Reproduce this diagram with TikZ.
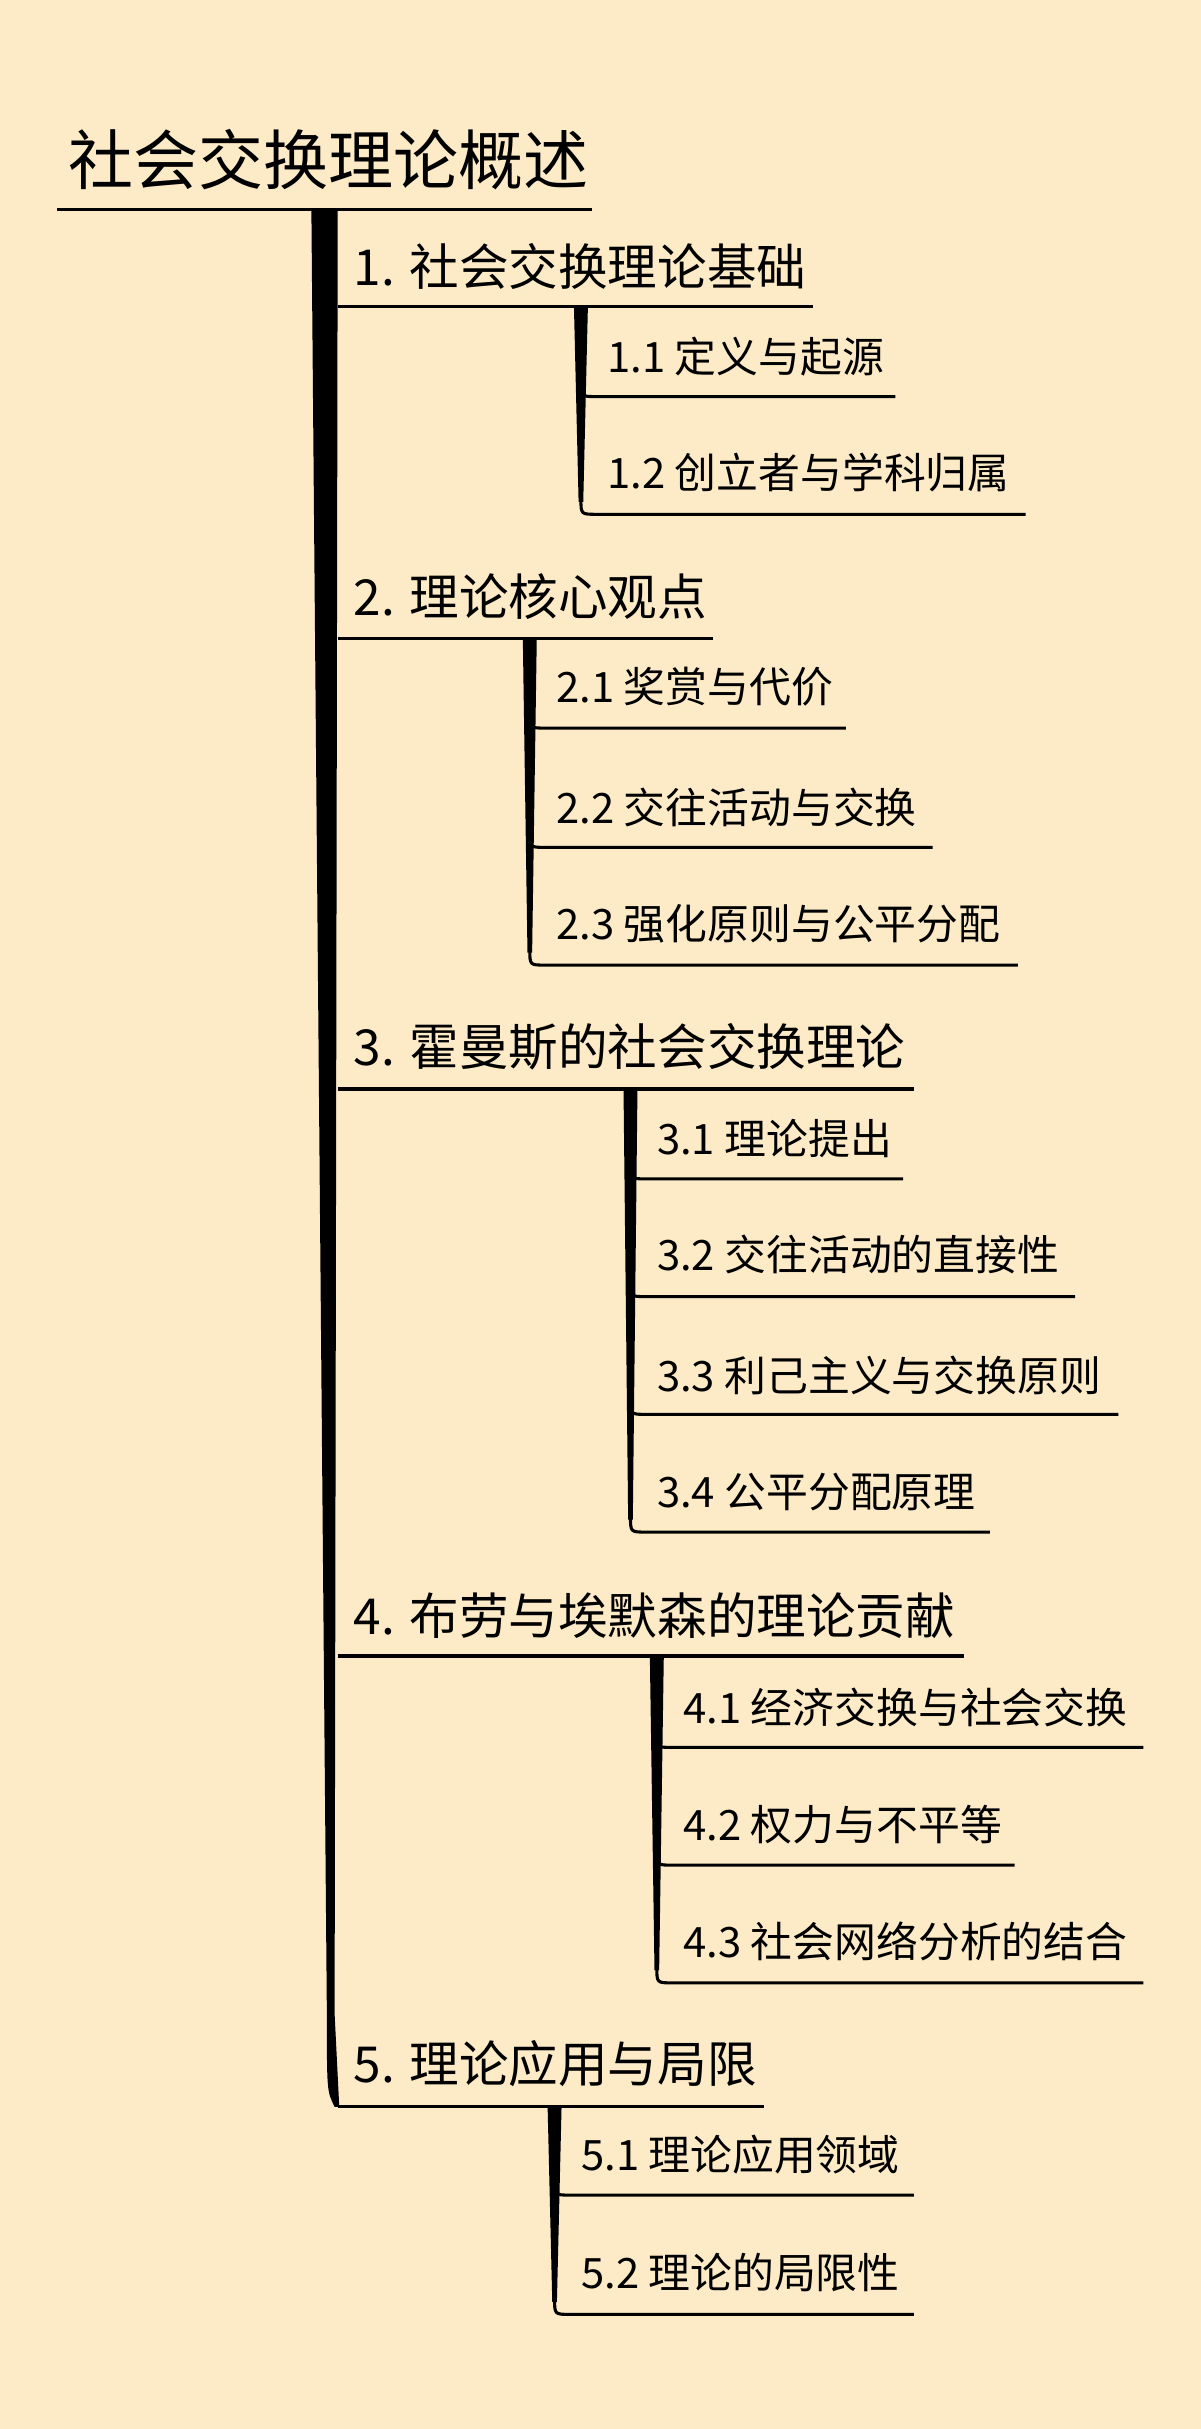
\documentclass[tikz,border=0pt]{standalone}
\usepackage{fontspec}
\setmainfont{Noto Sans CJK SC}
\definecolor{bg}{HTML}{FDEBC7}
\begin{document}
\begin{tikzpicture}[x=1pt,y=-1pt,
  lone/.style={anchor=west,inner sep=0pt,font=\fontsize{32}{32}\selectfont},
  ltwo/.style={anchor=west,inner sep=0pt,font=\fontsize{27}{27}\selectfont},
  ul/.style={line width=2pt}]
\fill[bg] (0,0) rectangle (775,1568);
\useasboundingbox (0,0) rectangle (775,1568);
\node[anchor=west,inner sep=0pt,font=\fontsize{42}{42}\selectfont] (t) at (44,103) {社会交换理论概述};
\draw[ul] (37,135) -- (382,135);
% trunk
\fill (201,135) -- (218,135) -- (216,1300) -- (219,1360) -- (216,1360) .. controls (211,1350) .. (211,1300) -- cycle;
% level 1
\newcommand\lvone[5]{\node[lone] (#1) at (228,#2) {#5};
  \draw[ul] (#1.west|-0,#3) ++(-10,0) -- (#4,#3);}
\lvone{a}{172}{198}{525}{1. 社会交换理论基础}
\lvone{b}{385}{412}{460}{2. 理论核心观点}
\lvone{c}{676}{703}{590}{3. 霍曼斯的社会交换理论}
\lvone{d}{1043}{1069}{622}{4. 布劳与埃默森的理论贡献}
\lvone{e}{1332}{1360}{493}{5. 理论应用与局限}
% level 2
\newcommand\lvtwo[6]{\node[ltwo] (#1) at (#2+17,#3) {#6};
  \draw[ul] (#2,#4-10) .. controls (#2,#4) .. (#2+10,#4) -- (#5,#4);}
\newcommand\branch[3]{\fill (#1-4.5,#2) -- (#1+4.5,#2) -- (#1+1.5,#3-8) -- (#1-1.5,#3-8) -- cycle;}
\branch{375}{198}{332}
\lvtwo{a1}{375}{230}{256}{578}{1.1 定义与起源}
\lvtwo{a2}{375}{305}{332}{662}{1.2 创立者与学科归属}
\branch{342}{412}{623}
\lvtwo{b1}{342}{443}{470}{546}{2.1 奖赏与代价}
\lvtwo{b2}{342}{521}{547}{602}{2.2 交往活动与交换}
\lvtwo{b3}{342}{596}{623}{657}{2.3 强化原则与公平分配}
\branch{407}{703}{989}
\lvtwo{c1}{407}{735}{761}{583}{3.1 理论提出}
\lvtwo{c2}{407}{810}{837}{694}{3.2 交往活动的直接性}
\lvtwo{c3}{407}{888}{913}{722}{3.3 利己主义与交换原则}
\lvtwo{c4}{407}{963}{989}{639}{3.4 公平分配原理}
\branch{424}{1069}{1280}
\lvtwo{d1}{424}{1102}{1128}{738}{4.1 经济交换与社会交换}
\lvtwo{d2}{424}{1178}{1204}{655}{4.2 权力与不平等}
\lvtwo{d3}{424}{1253}{1280}{738}{4.3 社会网络分析的结合}
\branch{358}{1360}{1494}
\lvtwo{e1}{358}{1391}{1417}{590}{5.1 理论应用领域}
\lvtwo{e2}{358}{1467}{1494}{590}{5.2 理论的局限性}
\end{tikzpicture}
\end{document}
